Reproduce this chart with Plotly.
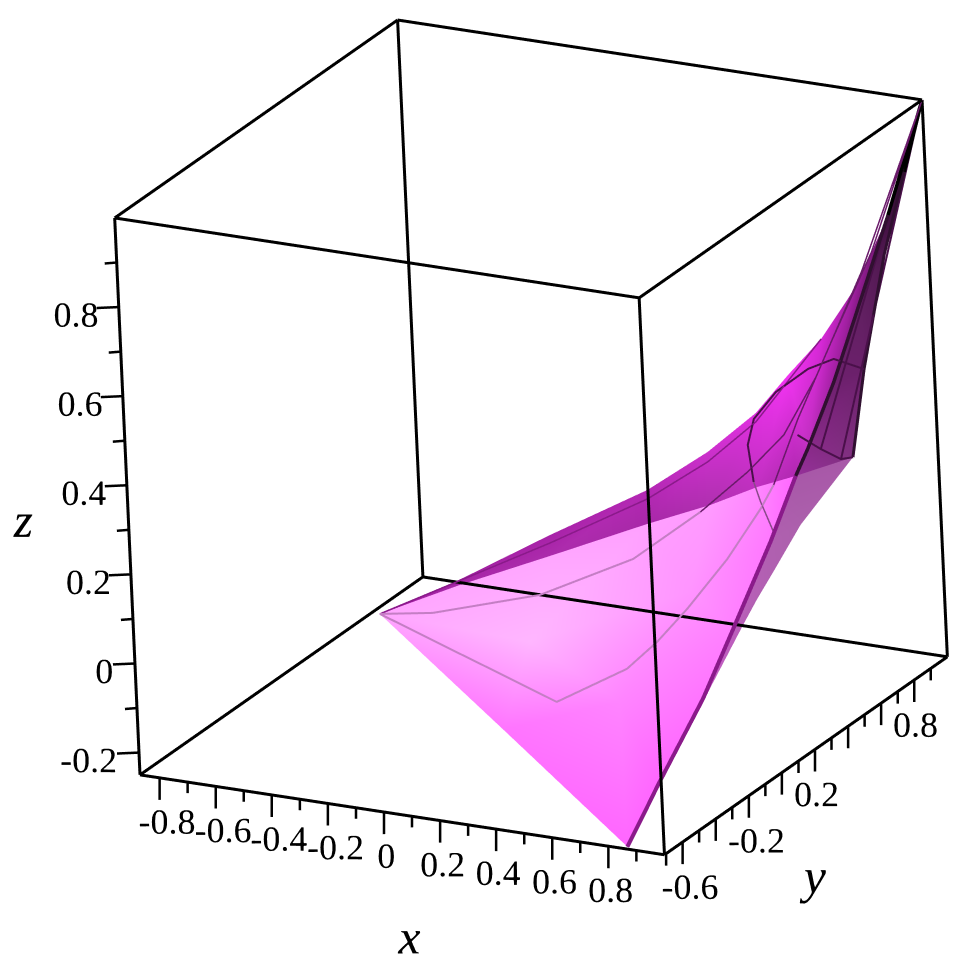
import plotly.graph_objects as go
import numpy as np

# --- axis ticks
x_major = [-0.8,-0.6,-0.4,-0.2,0,0.2,0.4,0.6,0.8]
x_minor = [-0.7,-0.5,-0.3,-0.1,0.1,0.3,0.5,0.7,0.9]
y_major = [-0.6,-0.4,-0.2,0,0.2,0.4,0.6,0.8]
y_minor = [-0.7,-0.5,-0.3,-0.1,0.1,0.3,0.5,0.7,0.9]
y_labelled = [-0.6,-0.2,0.2,0.8]
z_major = [-0.2,0,0.2,0.4,0.6,0.8]
z_minor = [-0.1,0.1,0.3,0.5,0.7,0.9]
x_range = [-0.87,1.0]; y_range = [-0.71,1.0]; z_range = [-0.25,1.0]

# --- surface vertices (x,y,z)
A=(1,1,1); B=(.8584,-.6938,-.25); C=(-.0914,-.5328,.1399); D=(.804,.82,.226); E=(.9932,.1711,.3708)
M1=(.1154,-.3927,.1884); M2=(.3593,-.2367,.2386); M3=(.6052,-.0777,.2905); M4=(.7717,.0256,.3223); M5=(.8923,.1097,.3524)
R1=(.9830,.0223,.2604); R2=(.9577,-.1781,.1148); R3=(.9367,-.3397,-.0023); R4=(.8900,-.5393,-.1412)
Lo=(.3830,-.6124,-.0542); Pc=(.3751,-.4220,.0930); Pd=(.6963,-.4351,-.0074); Pe=(.7963,-.1565,.1767)
O1=(.8497,.0571,.0521); O2=(.8478,.1500,.0863); O3=(.8429,.2591,.1180); O4=(.8364,.4415,.1753)
U1=(.0930,-.3966,.1918); U2=(.3314,-.2030,.2721); U3=(.5727,-.0150,.3474); U4=(.7123,.1200,.4110); U5=(.8157,.2440,.4762)
U6=(.8732,.3487,.5398); U7=(.9355,.4508,.6001); U8=(.9844,.5787,.6837); U9=(.956,.8153,.7632); U10=(.9724,.9224,.8671)
W1=(.8923,.4127,.3587); W2=(.9056,.5621,.4716); W3=(.9314,.7010,.6243); W4=(.9581,.8387,.7797)
V1=(.8630,.8124,.4315); V2=(.9294,.8517,.6837); V3=(.9679,.9285,.8539)

main_pts = [C,M1,M2,M3,M4,M5,E,R1,R2,R3,R4,B,Lo,Pc,Pd,Pe]
main_col = ["#ffa6ff","#ffa6ff","#ffa6ff","#ffa0ff","#ff9aff","#ff88ff","#ff66ff","#ff78ff","#ff80ff","#ff74ff","#ff66ff","#ff66ff","#ff74ff","#ffb6ff","#ff84ff","#ff94ff"]
main_tri = [(0,1,13),(1,2,13),(2,3,13),(3,15,13),(3,4,15),(4,5,15),(5,6,7),(5,7,15),(7,8,15),(8,14,15),(13,15,14),(8,9,14),(9,10,14),(10,11,14),(11,12,14),(12,13,14),(12,0,13)]

muted_pts = [B,O1,O2,O3,O4,D,E,R1,R2,R3,R4]
muted_col = ["#d060d0","#b85cb8","#b060b0","#b060b0","#ac60ac","#a858a8","#a858a8","#b060b0","#bc60bc","#c860c8","#d060d0"]
muted_tri = [(0,1,10),(1,9,10),(1,8,9),(1,2,8),(2,3,8),(3,7,8),(3,4,7),(4,6,7),(4,5,6)]

upper_pts = [C,U1,U2,U3,U4,U5,U6,U7,U8,U9,U10,A,M1,M2,M3,M4,M5,E,W1,W2,W3,W4]
upper_col = ["#a020a0","#a020a0","#a822a8","#b428b4","#cc30cc","#e030e0","#f233f2","#d828d8","#a020a0","#701870","#401040","#200820",
             "#a828a8","#ac2cac","#a828a8","#b030b0","#c030c0","#b028b0","#c030c0","#a020a0","#801880","#501050"]
upper_tri = [(0,1,12),(1,2,12),(2,13,12),(2,3,13),(3,14,13),(3,4,14),(4,15,14),(4,5,15),(5,16,15),(5,6,16),(6,17,16),(6,18,17),(6,7,18),(7,19,18),(7,8,19),(8,20,19),(8,9,20),(9,21,20),(9,10,21),(10,11,21)]

wedge_pts = [E,W1,W2,W3,W4,A,D,V1,V2,V3]
wedge_col = ["#96309a","#8a2a8a","#6e206e","#602060","#401040","#200820","#803080","#6a206a","#501850","#300c30"]
wedge_tri = [(0,1,6),(1,7,6),(1,2,7),(2,3,7),(3,8,7),(3,4,8),(4,9,8),(4,5,9)]

# --- thin lines on the surface
line_a_low = [C,(.5116,-.5034,-.0074),(.6852,-.3667,.0479),(.7474,-.2844,.0930),(.8038,-.1911,.1483),(.8732,-.0556,.2319),(.9221,.0724,.3156),(.9373,.1307,.3558)]
line_a_high = [(.9373,.1307,.3558),(.9445,.2784,.4662),(.9677,.4561,.5950),(.9989,.6654,.7457),A]
line_b_low = [C,(.0630,-.4736,.1416),(.3595,-.3245,.1717),(.5977,-.1574,.2319),(.7491,.0018,.3106)]
line_b_high = [(.7491,.0018,.3106),(.8486,.1265,.3775),(.9188,.2337,.4394),(.9572,.3753,.5365),(.9887,.6177,.7122),A]
line_arc_low = [(.9822,.0440,.2771),(.9154,.0853,.3273),(.8758,.1146,.3608)]
line_arc_high = [(.8758,.1146,.3608),(.8228,.1763,.4227),(.8156,.2307,.4662),(.8542,.3043,.5114),(.9261,.3814,.5499),(.9262,.5342,.5325),V1,D]
line_low = [(.9230,.3070,.4206),(.8688,.5280,.3264),(.8236,.7175,.2503),D]
line_top = [C,(.3391,-.2178,.2587),(.5813,-.0316,.3323),(.7218,.1016,.3942),(.8243,.2274,.4612),U7]
edge_low = [B,R4,R3,R2,R1,E]
edge_high = [E,W1,W2,W3,W4,A]
ray_a = [(.8688,.5280,.3264),A]
ray_b = [(.8236,.7175,.2503),A]
tip_a = [W4,A]
tip_b = [V3,A]
right_edge = [D,V1,V2,V3,A]

# view: screen directions of the box, in box-side units
r=np.array([.879,.473,-.045]); u=np.array([-.134,.332,.934]); n=np.cross(r,u)
dims=np.array([x_range[1]-x_range[0],y_range[1]-y_range[0],z_range[1]-z_range[0]])
PX=596.0
def off(px,py):
    return (px*r-py*u)/PX*dims

def mesh(pts, cols, tris):
    p=np.array(pts,float); t=np.array(tris)
    return go.Mesh3d(x=p[:,0],y=p[:,1],z=p[:,2],i=t[:,0],j=t[:,1],k=t[:,2],vertexcolor=cols,
                     flatshading=False,lighting=dict(ambient=1,diffuse=0,specular=0,fresnel=0,roughness=1),
                     hoverinfo="skip",showscale=False,scene="scene")
def line(pts,color,width):
    p=np.array(pts,float)
    return go.Scatter3d(x=p[:,0],y=p[:,1],z=p[:,2],mode="lines",line=dict(color=color,width=width),
                        hoverinfo="skip",showlegend=False,scene="scene2")
def ticks(base,d,width=5):
    X=[];Y=[];Z=[]
    for b in base:
        e=np.array(b)+d
        X+=[b[0],e[0],None];Y+=[b[1],e[1],None];Z+=[b[2],e[2],None]
    return go.Scatter3d(x=X,y=Y,z=Z,mode="lines",line=dict(color="black",width=width),hoverinfo="skip",showlegend=False,scene="scene2")
def text(pos,labels,size,italic=False):
    p=np.array(pos,float)
    f=dict(family="Liberation Serif",size=size,color="black")
    if italic: f["style"]="italic"
    return go.Scatter3d(x=p[:,0],y=p[:,1],z=p[:,2],mode="text",text=labels,textposition="middle center",
                        textfont=f,hoverinfo="skip",showlegend=False,scene="scene2")

fig=go.Figure()
fig.add_trace(mesh(muted_pts,muted_col,muted_tri))
fig.add_trace(mesh(main_pts,main_col,main_tri))
fig.add_trace(mesh(upper_pts,upper_col,upper_tri))
fig.add_trace(mesh(wedge_pts,wedge_col,wedge_tri))
soft="#c47ec4"; deep="#6a1a6a"; dark="#4a104a"
for pts,c,w in [(line_a_low,soft,4),(line_b_low,soft,4),(line_a_high,deep,3),(line_b_high,deep,3),
                (line_arc_low,"#8a4a8a",3),(line_arc_high,dark,4),(line_low,dark,4),(line_top,"#8a1a8a",3),
                (edge_low,"#8a1a8a",8),(edge_high,"#301030",7),(ray_a,dark,4),(ray_b,dark,4),(right_edge,"#301030",6),
                (tip_a,"black",7),(tip_b,"black",7)]:
    fig.add_trace(line(pts,c,w))

# the twelve edges of the box, from the axis ranges
x0,x1=x_range; y0,y1=y_range; z0,z1=z_range
for a,b in [((x0,y0,z0),(x1,y0,z0)),((x0,y1,z0),(x1,y1,z0)),((x0,y0,z1),(x1,y0,z1)),((x0,y1,z1),(x1,y1,z1)),
            ((x0,y0,z0),(x0,y1,z0)),((x1,y0,z0),(x1,y1,z0)),((x0,y0,z1),(x0,y1,z1)),((x1,y0,z1),(x1,y1,z1)),
            ((x0,y0,z0),(x0,y0,z1)),((x1,y0,z0),(x1,y0,z1)),((x0,y1,z0),(x0,y1,z1)),((x1,y1,z0),(x1,y1,z1))]:
    fig.add_trace(line([a,b],"black",6))

# ticks, tick labels and titles on the three axes
xb=lambda v:(v,y0,z0); yb=lambda v:(x1,v,z0); zb=lambda v:(x0,y0,v)
fig.add_trace(ticks([xb(v) for v in x_major],off(0,22)))
fig.add_trace(ticks([xb(v) for v in x_minor],off(0,11)))
fig.add_trace(ticks([yb(v) for v in y_major],off(0,22)))
fig.add_trace(ticks([yb(v) for v in y_minor],off(0,12)))
fig.add_trace(ticks([zb(v) for v in z_major],off(-22,1)))
fig.add_trace(ticks([zb(v) for v in z_minor],off(-12,1)))
def fmt(v):
    return "0" if v==0 else ("%.1f"%v)
FS=36
fig.add_trace(text([np.array(xb(v))+off(7 if v<0 else 2,44) for v in x_major],[fmt(v) for v in x_major],FS))
fig.add_trace(text([np.array(yb(v))+off(7 if v<0 else 1,45) for v in y_labelled],[fmt(v) for v in y_labelled],FS))
fig.add_trace(text([np.array(zb(v))+off(-51 if v<0 else (-31 if v==0 else -43),8) for v in z_major],[fmt(v) for v in z_major],FS))
fig.add_trace(text([np.array(xb(0.0875))+off(0,126)],["x"],50,True))
fig.add_trace(text([np.array(yb(-0.1))+off(47,102)],["y"],50,True))
fig.add_trace(text([np.array(zb(0.33))+off(-106,9)],["z"],50,True))

# camera (orthographic view of the box)
PAD=0.25
ZOOM=1.231*(1+2*PAD)
shift=-(42.5/596*1.0)*r-(48.5/596*1.40)*u
eye=shift+1.8*n
cam=dict(projection=dict(type="orthographic"),up=dict(x=u[0],y=u[1],z=u[2]),
         center=dict(x=shift[0],y=shift[1],z=shift[2]),eye=dict(x=eye[0],y=eye[1],z=eye[2]))
def hid(rng):
    d=rng[1]-rng[0]
    return dict(range=[rng[0]-PAD*d,rng[1]+PAD*d],autorange=False,visible=False)
for name in ["scene","scene2"]:
    fig.layout[name]=dict(domain=dict(x=[0,1],y=[0,1]),aspectmode="manual",aspectratio=dict(x=ZOOM,y=ZOOM,z=ZOOM),camera=cam,
                          xaxis=hid(x_range),yaxis=hid(y_range),zaxis=hid(z_range))
fig.update_layout(width=977,height=969,margin=dict(l=0,r=0,t=0,b=0),paper_bgcolor="white",showlegend=False)
fig.write_html("out.html")
